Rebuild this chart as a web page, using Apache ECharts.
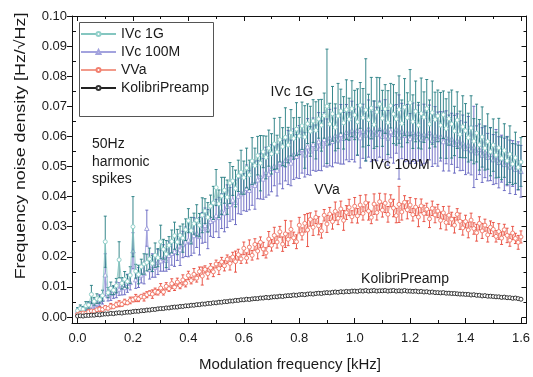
<!DOCTYPE html>
<html><head><meta charset="utf-8">
<script src="https://cdn.jsdelivr.net/npm/echarts@6/dist/echarts.min.js"></script>
<style>html,body{margin:0;padding:0;background:#fff}#c{width:533px;height:377px}</style>
</head><body><div id="c"></div>
<script>
// Modulation frequency [kHz]
const freq = [
0.00,0.01,0.02,0.03,0.04,0.05,0.06,0.07,0.08,0.09,
0.10,0.11,0.12,0.13,0.14,0.15,0.16,0.17,0.18,0.19,
0.20,0.21,0.22,0.23,0.24,0.25,0.26,0.27,0.28,0.29,
0.30,0.31,0.32,0.33,0.34,0.35,0.36,0.37,0.38,0.39,
0.40,0.41,0.42,0.43,0.44,0.45,0.46,0.47,0.48,0.49,
0.50,0.51,0.52,0.53,0.54,0.55,0.56,0.57,0.58,0.59,
0.60,0.61,0.62,0.63,0.64,0.65,0.66,0.67,0.68,0.69,
0.70,0.71,0.72,0.73,0.74,0.75,0.76,0.77,0.78,0.79,
0.80,0.81,0.82,0.83,0.84,0.85,0.86,0.87,0.88,0.89,
0.90,0.91,0.92,0.93,0.94,0.95,0.96,0.97,0.98,0.99,
1.00,1.01,1.02,1.03,1.04,1.05,1.06,1.07,1.08,1.09,
1.10,1.11,1.12,1.13,1.14,1.15,1.16,1.17,1.18,1.19,
1.20,1.21,1.22,1.23,1.24,1.25,1.26,1.27,1.28,1.29,
1.30,1.31,1.32,1.33,1.34,1.35,1.36,1.37,1.38,1.39,
1.40,1.41,1.42,1.43,1.44,1.45,1.46,1.47,1.48,1.49,
1.50,1.51,1.52,1.53,1.54,1.55,1.56,1.57,1.58,1.59,
1.60];

// IVc 1G
const ivc1g = [
0.0021,0.0028,0.0026,0.0037,0.0040,0.0075,0.0052,0.0061,0.0058,0.0071,
0.0250,0.0081,0.0095,0.0089,0.0104,0.0190,0.0112,0.0125,0.0118,0.0139,
0.0300,0.0152,0.0141,0.0167,0.0176,0.0181,0.0193,0.0178,0.0205,0.0197,
0.0250,0.0225,0.0209,0.0238,0.0251,0.0270,0.0249,0.0271,0.0262,0.0290,
0.0320,0.0287,0.0310,0.0321,0.0305,0.0338,0.0352,0.0331,0.0368,0.0379,
0.0430,0.0376,0.0402,0.0421,0.0398,0.0445,0.0452,0.0427,0.0469,0.0481,
0.0463,0.0495,0.0472,0.0518,0.0503,0.0536,0.0511,0.0549,0.0530,0.0561,
0.0542,0.0575,0.0548,0.0589,0.0566,0.0597,0.0571,0.0612,0.0593,0.0624,
0.0601,0.0635,0.0598,0.0642,0.0617,0.0651,0.0620,0.0658,0.0637,0.0669,
0.0700,0.0641,0.0675,0.0630,0.0668,0.0684,0.0645,0.0689,0.0657,0.0692,
0.0671,0.0648,0.0703,0.0662,0.0688,0.0655,0.0694,0.0639,0.0681,0.0707,
0.0660,0.0691,0.0646,0.0702,0.0674,0.0658,0.0689,0.0643,0.0697,0.0662,
0.0712,0.0649,0.0683,0.0637,0.0676,0.0664,0.0692,0.0641,0.0679,0.0656,
0.0668,0.0637,0.0672,0.0626,0.0659,0.0641,0.0618,0.0654,0.0607,0.0632,
0.0619,0.0596,0.0628,0.0584,0.0611,0.0572,0.0598,0.0561,0.0583,0.0549,
0.0571,0.0538,0.0562,0.0527,0.0553,0.0519,0.0541,0.0508,0.0529,0.0497,
0.0515];
const ivc1gErr = [
0.0010,0.0012,0.0009,0.0014,0.0011,0.0030,0.0013,0.0016,0.0012,0.0018,
0.0085,0.0017,0.0021,0.0015,0.0024,0.0060,0.0019,0.0026,0.0022,0.0028,
0.0100,0.0023,0.0031,0.0025,0.0034,0.0028,0.0036,0.0027,0.0041,0.0030,
0.0055,0.0033,0.0045,0.0029,0.0038,0.0045,0.0042,0.0031,0.0047,0.0036,
0.0040,0.0044,0.0035,0.0052,0.0039,0.0058,0.0041,0.0049,0.0037,0.0055,
0.0060,0.0046,0.0062,0.0043,0.0057,0.0068,0.0048,0.0061,0.0052,0.0073,
0.0055,0.0066,0.0049,0.0078,0.0058,0.0064,0.0092,0.0053,0.0071,0.0060,
0.0067,0.0085,0.0056,0.0074,0.0063,0.0098,0.0059,0.0077,0.0069,0.0088,
0.0062,0.0079,0.0104,0.0066,0.0083,0.0071,0.0095,0.0064,0.0086,0.0075,
0.0190,0.0069,0.0091,0.0078,0.0108,0.0073,0.0087,0.0099,0.0070,0.0093,
0.0082,0.0110,0.0076,0.0097,0.0170,0.0085,0.0102,0.0079,0.0115,0.0088,
0.0093,0.0081,0.0106,0.0074,0.0098,0.0087,0.0112,0.0078,0.0095,0.0083,
0.0110,0.0089,0.0101,0.0076,0.0118,0.0084,0.0097,0.0080,0.0105,0.0091,
0.0086,0.0109,0.0079,0.0099,0.0088,0.0113,0.0082,0.0094,0.0077,0.0103,
0.0090,0.0081,0.0107,0.0075,0.0096,0.0084,0.0100,0.0073,0.0092,0.0080,
0.0087,0.0076,0.0098,0.0071,0.0089,0.0079,0.0094,0.0068,0.0085,0.0074,
0.0081];

// IVc 100M
const ivc100m = [
0.0018,0.0024,0.0021,0.0029,0.0033,0.0038,0.0043,0.0047,0.0055,0.0059,
0.0140,0.0071,0.0078,0.0082,0.0090,0.0093,0.0101,0.0098,0.0112,0.0115,
0.0220,0.0124,0.0131,0.0140,0.0146,0.0295,0.0158,0.0171,0.0166,0.0183,
0.0187,0.0196,0.0189,0.0205,0.0212,0.0218,0.0229,0.0224,0.0241,0.0250,
0.0256,0.0249,0.0271,0.0279,0.0268,0.0296,0.0305,0.0292,0.0318,0.0324,
0.0337,0.0331,0.0352,0.0346,0.0368,0.0374,0.0389,0.0381,0.0402,0.0410,
0.0415,0.0428,0.0421,0.0443,0.0438,0.0456,0.0467,0.0459,0.0481,0.0475,
0.0494,0.0502,0.0488,0.0515,0.0507,0.0521,0.0530,0.0512,0.0541,0.0534,
0.0548,0.0557,0.0539,0.0566,0.0552,0.0574,0.0561,0.0583,0.0569,0.0590,
0.0578,0.0596,0.0584,0.0603,0.0589,0.0607,0.0594,0.0614,0.0598,0.0620,
0.0603,0.0621,0.0596,0.0617,0.0605,0.0626,0.0599,0.0619,0.0608,0.0624,
0.0601,0.0622,0.0595,0.0616,0.0607,0.0625,0.0598,0.0618,0.0604,0.0612,
0.0593,0.0614,0.0599,0.0611,0.0590,0.0608,0.0596,0.0613,0.0587,0.0604,
0.0591,0.0600,0.0583,0.0597,0.0578,0.0592,0.0574,0.0586,0.0569,0.0579,
0.0560,0.0572,0.0553,0.0565,0.0546,0.0557,0.0538,0.0549,0.0531,0.0541,
0.0523,0.0533,0.0514,0.0526,0.0507,0.0518,0.0499,0.0510,0.0491,0.0502,
0.0484];
const ivc100mErr = [
0.0009,0.0011,0.0013,0.0010,0.0015,0.0012,0.0017,0.0014,0.0019,0.0016,
0.0070,0.0018,0.0023,0.0020,0.0026,0.0021,0.0028,0.0024,0.0030,0.0025,
0.0060,0.0029,0.0033,0.0027,0.0036,0.0060,0.0032,0.0039,0.0034,0.0042,
0.0035,0.0044,0.0037,0.0047,0.0040,0.0050,0.0041,0.0053,0.0044,0.0049,
0.0056,0.0045,0.0059,0.0048,0.0062,0.0051,0.0057,0.0065,0.0050,0.0060,
0.0054,0.0067,0.0058,0.0063,0.0071,0.0056,0.0066,0.0074,0.0059,0.0069,
0.0062,0.0077,0.0065,0.0072,0.0080,0.0063,0.0075,0.0068,0.0083,0.0070,
0.0078,0.0066,0.0086,0.0073,0.0081,0.0069,0.0090,0.0076,0.0084,0.0072,
0.0088,0.0079,0.0074,0.0093,0.0081,0.0087,0.0077,0.0096,0.0083,0.0089,
0.0080,0.0094,0.0085,0.0091,0.0078,0.0099,0.0086,0.0092,0.0082,0.0097,
0.0088,0.0084,0.0101,0.0090,0.0086,0.0095,0.0083,0.0098,0.0089,0.0093,
0.0085,0.0100,0.0091,0.0087,0.0096,0.0081,0.0140,0.0092,0.0088,0.0094,
0.0083,0.0097,0.0089,0.0093,0.0086,0.0099,0.0084,0.0091,0.0087,0.0095,
0.0090,0.0082,0.0098,0.0088,0.0093,0.0085,0.0096,0.0089,0.0083,0.0092,
0.0087,0.0094,0.0081,0.0135,0.0089,0.0084,0.0091,0.0086,0.0079,0.0088,
0.0083,0.0090,0.0085,0.0078,0.0087,0.0082,0.0089,0.0076,0.0084,0.0080,
0.0086];

// VVa
const vva = [
0.0008,0.0011,0.0013,0.0012,0.0017,0.0020,0.0019,0.0024,0.0026,0.0025,
0.0031,0.0029,0.0036,0.0034,0.0041,0.0044,0.0042,0.0050,0.0047,0.0055,
0.0058,0.0063,0.0060,0.0068,0.0066,0.0074,0.0079,0.0076,0.0085,0.0082,
0.0096,0.0083,0.0102,0.0094,0.0111,0.0099,0.0116,0.0104,0.0123,0.0112,
0.0138,0.0121,0.0142,0.0129,0.0151,0.0136,0.0158,0.0144,0.0163,0.0150,
0.0176,0.0161,0.0183,0.0170,0.0192,0.0178,0.0199,0.0184,0.0207,0.0193,
0.0228,0.0196,0.0232,0.0205,0.0241,0.0219,0.0248,0.0226,0.0213,0.0259,
0.0238,0.0271,0.0249,0.0283,0.0242,0.0276,0.0258,0.0291,0.0263,0.0250,
0.0305,0.0276,0.0311,0.0289,0.0324,0.0298,0.0331,0.0303,0.0286,0.0338,
0.0309,0.0342,0.0317,0.0351,0.0328,0.0359,0.0321,0.0347,0.0364,0.0333,
0.0368,0.0336,0.0372,0.0344,0.0379,0.0352,0.0331,0.0375,0.0347,0.0383,
0.0355,0.0378,0.0341,0.0386,0.0362,0.0337,0.0374,0.0349,0.0381,0.0356,
0.0372,0.0340,0.0365,0.0332,0.0369,0.0344,0.0358,0.0326,0.0361,0.0339,
0.0352,0.0321,0.0346,0.0314,0.0338,0.0325,0.0305,0.0341,0.0318,0.0296,
0.0317,0.0289,0.0322,0.0294,0.0280,0.0311,0.0286,0.0305,0.0273,0.0298,
0.0291,0.0268,0.0284,0.0262,0.0290,0.0271,0.0255,0.0279,0.0261,0.0248,
0.0266];
const vvaErr = [
0.0004,0.0006,0.0003,0.0005,0.0007,0.0004,0.0006,0.0005,0.0008,0.0006,
0.0007,0.0005,0.0009,0.0006,0.0008,0.0010,0.0007,0.0009,0.0006,0.0011,
0.0008,0.0012,0.0009,0.0007,0.0013,0.0010,0.0008,0.0014,0.0011,0.0009,
0.0015,0.0010,0.0012,0.0009,0.0016,0.0011,0.0013,0.0010,0.0017,0.0012,
0.0014,0.0011,0.0019,0.0013,0.0015,0.0030,0.0012,0.0018,0.0014,0.0016,
0.0013,0.0020,0.0015,0.0017,0.0014,0.0022,0.0016,0.0035,0.0018,0.0015,
0.0021,0.0017,0.0024,0.0016,0.0019,0.0026,0.0018,0.0022,0.0017,0.0025,
0.0019,0.0027,0.0020,0.0018,0.0024,0.0045,0.0021,0.0028,0.0019,0.0023,
0.0026,0.0020,0.0029,0.0055,0.0022,0.0027,0.0021,0.0030,0.0024,0.0019,
0.0028,0.0022,0.0025,0.0031,0.0021,0.0026,0.0033,0.0023,0.0027,0.0020,
0.0029,0.0024,0.0032,0.0022,0.0027,0.0030,0.0021,0.0034,0.0025,0.0028,
0.0023,0.0031,0.0026,0.0020,0.0029,0.0024,0.0060,0.0027,0.0022,0.0030,
0.0025,0.0021,0.0028,0.0032,0.0023,0.0027,0.0020,0.0029,0.0024,0.0026,
0.0022,0.0028,0.0021,0.0025,0.0030,0.0023,0.0026,0.0019,0.0027,0.0024,
0.0021,0.0026,0.0023,0.0019,0.0028,0.0022,0.0025,0.0020,0.0024,0.0021,
0.0023,0.0019,0.0026,0.0021,0.0018,0.0024,0.0020,0.0022,0.0017,0.0023,
0.0020];

// KolibriPreamp
const kolibri = [
0.0003,0.0004,0.0003,0.0005,0.0005,0.0006,0.0006,0.0008,0.0007,0.0009,
0.0010,0.0010,0.0012,0.0011,0.0013,0.0014,0.0013,0.0015,0.0016,0.0016,
0.0018,0.0019,0.0019,0.0021,0.0021,0.0023,0.0023,0.0025,0.0025,0.0027,
0.0028,0.0028,0.0030,0.0030,0.0032,0.0033,0.0033,0.0035,0.0035,0.0037,
0.0037,0.0039,0.0039,0.0041,0.0041,0.0043,0.0043,0.0045,0.0045,0.0047,
0.0047,0.0049,0.0049,0.0051,0.0051,0.0053,0.0053,0.0055,0.0055,0.0057,
0.0057,0.0059,0.0058,0.0060,0.0061,0.0061,0.0063,0.0063,0.0065,0.0064,
0.0066,0.0067,0.0067,0.0069,0.0068,0.0070,0.0071,0.0071,0.0073,0.0072,
0.0074,0.0075,0.0074,0.0076,0.0077,0.0076,0.0078,0.0079,0.0078,0.0080,
0.0081,0.0080,0.0082,0.0083,0.0082,0.0084,0.0083,0.0085,0.0084,0.0086,
0.0086,0.0085,0.0087,0.0086,0.0088,0.0086,0.0087,0.0088,0.0086,0.0087,
0.0087,0.0088,0.0086,0.0087,0.0088,0.0086,0.0087,0.0086,0.0088,0.0086,
0.0086,0.0085,0.0086,0.0084,0.0085,0.0083,0.0084,0.0082,0.0083,0.0081,
0.0081,0.0080,0.0081,0.0079,0.0079,0.0078,0.0078,0.0077,0.0076,0.0076,
0.0075,0.0075,0.0073,0.0074,0.0072,0.0072,0.0070,0.0071,0.0069,0.0069,
0.0068,0.0067,0.0067,0.0065,0.0066,0.0064,0.0064,0.0062,0.0063,0.0061,
0.0059];

const seriesNames = ['IVc 1G','IVc 100M','VVa','KolibriPreamp'];
const xTicks = [0,0.2,0.4,0.6,0.8,1.0,1.2,1.4,1.6];
const xTickLabels = ['0.0','0.2','0.4','0.6','0.8','1.0','1.2','1.4','1.6'];
const xMinor = [0.1,0.3,0.5,0.7,0.9,1.1,1.3,1.5];
const yTicks = [0,0.01,0.02,0.03,0.04,0.05,0.06,0.07,0.08,0.09,0.10];
const yTickLabels = ['0.00','0.01','0.02','0.03','0.04','0.05','0.06','0.07','0.08','0.09','0.10'];
const yMinor = [0.005,0.015,0.025,0.035,0.045,0.055,0.065,0.075,0.085,0.095];

const FONT = '"Liberation Sans", Arial, sans-serif';
const TXT = '#1a1a1a';

function pts(v){ return freq.map((f,i)=>[f, v[i]]); }
function bars(v,e){ return freq.map((f,i)=>[f, v[i]-e[i], v[i]+e[i]]); }
function errRender(color){
  return function(params, api){
    const x = api.value(0);
    const lo = api.coord([x, api.value(1)]);
    const hi = api.coord([x, api.value(2)]);
    const w = 1.5;
    const st = {stroke: color, lineWidth: 0.9};
    return {type:'group', children:[
      {type:'line', shape:{x1:lo[0],y1:lo[1],x2:hi[0],y2:hi[1]}, style:st},
      {type:'line', shape:{x1:hi[0]-w,y1:hi[1],x2:hi[0]+w,y2:hi[1]}, style:st},
      {type:'line', shape:{x1:lo[0]-w,y1:lo[1],x2:lo[0]+w,y2:lo[1]}, style:st}
    ]};
  };
}
function lbl(list, ticks){ return v => { const i = ticks.findIndex(t => Math.abs(t-v) < 1e-9); return i >= 0 ? list[i] : ''; }; }

const XMIN = -0.02, XMAX = 1.62, YMIN = -0.002, YMAX = 0.1;
function xAx(pos, ticks, len, labels){
  return {type:'value', min:XMIN, max:XMAX, position:pos,
    axisLine:{show: ticks === xTicks, onZero:false, lineStyle:{color:'#111', width:1}},
    axisTick:{inside:true, length:len, customValues:ticks, lineStyle:{color:'#111', width:1}},
    axisLabel: labels ? {customValues:ticks, formatter:lbl(xTickLabels, xTicks), fontSize:13, color:TXT, fontFamily:FONT, margin:9} : {show:false},
    splitLine:{show:false}};
}
function yAx(pos, ticks, len, inside, labels){
  return {type:'value', min:YMIN, max:YMAX, position:pos,
    axisLine:{show: ticks === yTicks, onZero:false, lineStyle:{color:'#111', width:1}},
    axisTick:{inside:inside, length:len, customValues:ticks, lineStyle:{color:'#111', width:1}},
    axisLabel: labels ? {customValues:ticks, formatter:lbl(yTickLabels, yTicks), fontSize:13, color:TXT, fontFamily:FONT, margin:5} : {show:false},
    splitLine:{show:false}};
}

const chart = echarts.init(document.getElementById('c'), null, {renderer:'canvas'});
chart.setOption({
  animation:false,
  backgroundColor:'#fff',
  grid:{left:72, right:5, top:16, bottom:54, containLabel:false},
  xAxis:[ xAx('bottom', xTicks, 5, true), xAx('bottom', xMinor, 3, false), xAx('top', xTicks, 5, false), xAx('top', xMinor, 3, false) ],
  yAxis:[ yAx('left', yTicks, 5, false, true), yAx('left', yMinor, 4, true, false), yAx('right', yTicks, 5, true, false), yAx('right', yMinor, 3, true, false) ],
  legend:{data:seriesNames, orient:'vertical', left:78, top:25, itemWidth:35, itemHeight:5, itemGap:4,
    padding:[2,2,2,2], borderWidth:0, z:20,
    textStyle:{fontSize:14, color:TXT, fontFamily:FONT}},
  series:[
    {name:'err100M', type:'custom', renderItem:errRender('#6363c0'), data:bars(ivc100m, ivc100mErr), silent:true, z:2},
    {name:seriesNames[1], type:'line', data:pts(ivc100m), showAllSymbol:true, symbol:'triangle', symbolSize:4.5,
      lineStyle:{color:'#a3a3de', width:0.8}, itemStyle:{color:'#fff', borderColor:'#a3a3de', borderWidth:1}, silent:true, z:2},
    {name:'err1G', type:'custom', renderItem:errRender('#237c80'), data:bars(ivc1g, ivc1gErr), silent:true, z:3},
    {name:seriesNames[0], type:'line', data:pts(ivc1g), showAllSymbol:true, symbol:'circle', symbolSize:4,
      lineStyle:{color:'#84c6c0', width:0.8}, itemStyle:{color:'#fff', borderColor:'#92d0ca', borderWidth:1}, silent:true, z:3},
    {name:'errVVa', type:'custom', renderItem:errRender('#e8473a'), data:bars(vva, vvaErr), silent:true, z:4},
    {name:seriesNames[2], type:'line', data:pts(vva), showAllSymbol:true, symbol:'circle', symbolSize:4,
      lineStyle:{color:'#f29a8a', width:0.8}, itemStyle:{color:'#fff', borderColor:'#f28070', borderWidth:1}, silent:true, z:4},
    {name:seriesNames[3], type:'line', data:pts(kolibri), showAllSymbol:true, symbol:'circle', symbolSize:4,
      lineStyle:{color:'#222', width:0.8}, itemStyle:{color:'#fff', borderColor:'#333', borderWidth:1}, silent:true, z:5}
  ],
  graphic:[
    {type:'rect', z:15, shape:{x:79.5, y:22.5, width:134, height:94}, style:{fill:'#fff', stroke:'#555', lineWidth:1}},
    {type:'text', x:290, y:365, style:{text:'Modulation frequency [kHz]', fontSize:15, fontFamily:FONT, fill:TXT, align:'center', verticalAlign:'middle'}},
    {type:'text', x:21, y:146, rotation:Math.PI/2, scaleX:1.19, style:{text:'Frequency noise density [Hz/\u221AHz]', fontSize:15, fontFamily:FONT, fill:TXT, align:'center', verticalAlign:'middle'}},
    {type:'text', x:292, y:92, z:10, style:{text:'IVc 1G', fontSize:14, fontFamily:FONT, fill:TXT, align:'center', verticalAlign:'middle'}},
    {type:'text', x:400, y:165, z:10, style:{text:'IVc 100M', fontSize:14, fontFamily:FONT, fill:TXT, align:'center', verticalAlign:'middle'}},
    {type:'text', x:327, y:190, z:10, style:{text:'VVa', fontSize:14, fontFamily:FONT, fill:TXT, align:'center', verticalAlign:'middle'}},
    {type:'text', x:405, y:279, z:10, style:{text:'KolibriPreamp', fontSize:14, fontFamily:FONT, fill:TXT, align:'center', verticalAlign:'middle'}},
    {type:'text', x:92, y:144, z:10, style:{text:'50Hz', fontSize:14, fontFamily:FONT, fill:TXT, align:'left', verticalAlign:'middle'}},
    {type:'text', x:92, y:162, z:10, style:{text:'harmonic', fontSize:14, fontFamily:FONT, fill:TXT, align:'left', verticalAlign:'middle'}},
    {type:'text', x:92, y:179, z:10, style:{text:'spikes', fontSize:14, fontFamily:FONT, fill:TXT, align:'left', verticalAlign:'middle'}}
  ]
});
</script></body></html>
